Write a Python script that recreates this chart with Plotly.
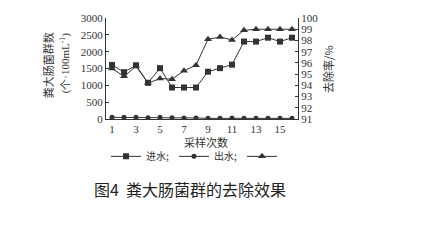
import plotly.graph_objects as go

samples = list(range(1, 17))
inflow = [1605, 1390, 1595, 1075, 1510, 935, 935, 935, 1405, 1510, 1615, 2300, 2300, 2415, 2300, 2415]
outflow = [50, 50, 50, 40, 50, 40, 30, 30, 20, 20, 30, 20, 20, 20, 20, 20]
removal = [95.5, 94.8, 95.7, 94.2, 94.6, 94.55, 95.3, 95.8, 98.1, 98.3, 98.05, 98.9, 99.0, 99.0, 99.0, 99.0]
x_tick_labels = ["1", "", "3", "", "5", "", "7", "", "9", "", "11", "", "13", "", "15", ""]
left_ticks = [0, 500, 1000, 1500, 2000, 2500, 3000]
right_ticks = [91, 92, 93, 94, 95, 96, 97, 98, 99, 100]

c = "#333333"
serif = "Liberation Serif"
cjk = "Noto Sans CJK SC"

fig = go.Figure()
fig.add_trace(go.Scatter(x=samples, y=inflow, name="进水;", mode="lines+markers",
                         line=dict(color=c, width=1), marker=dict(symbol="square", size=6, color=c)))
fig.add_trace(go.Scatter(x=samples, y=outflow, name="出水;", mode="lines+markers",
                         line=dict(color=c, width=1), marker=dict(symbol="circle", size=5, color=c)))
fig.add_trace(go.Scatter(x=samples, y=removal, name=" ", mode="lines+markers", yaxis="y2",
                         line=dict(color=c, width=1), marker=dict(symbol="triangle-up", size=7, color=c)))

axis_common = dict(showline=True, linecolor=c, linewidth=1, ticks="inside", ticklen=3,
                   tickcolor=c, showgrid=False, zeroline=False,
                   tickfont=dict(family=serif, size=11, color=c))

fig.update_layout(
    width=438, height=251,
    margin=dict(l=106, r=140, t=12, b=132),
    paper_bgcolor="white", plot_bgcolor="white",
    showlegend=True,
    legend=dict(orientation="h", x=0.0, xanchor="left", y=-0.37, yanchor="middle",
                font=dict(family=cjk, size=10, color=c), itemwidth=30,
                tracegroupgap=0, bgcolor="rgba(0,0,0,0)"),
    xaxis=dict(range=[0.5, 16.5], tickvals=samples, ticktext=x_tick_labels, **axis_common),
    yaxis=dict(range=[0, 3000], tickvals=left_ticks, **axis_common),
    yaxis2=dict(range=[91, 100], tickvals=right_ticks, overlaying="y", side="right", **axis_common),
    annotations=[
        dict(text="粪大肠菌群数", x=48, y=62, showarrow=False,
             textangle=-90, font=dict(family=cjk, size=11, color=c)),
        dict(text="(个·100mL<sup>-1</sup>)", x=65, y=60, showarrow=False,
             textangle=-90, font=dict(family=serif, size=11, color=c)),
        dict(text="去除率/%", x=328, y=67, showarrow=False,
             textangle=-90, font=dict(family=cjk, size=11, color=c)),
        dict(text="采样次数", x=206, y=143, showarrow=False,
             font=dict(family=cjk, size=11, color=c)),
        dict(text="图4  粪大肠菌群的去除效果", x=190, y=193, showarrow=False,
             font=dict(family=cjk, size=16, color="#222222")),
    ],
)

# convert pixel positions of annotations to paper coords
pl, pr, pt, pb = 106, 438 - 140, 12, 251 - 132
for a in fig.layout.annotations:
    a.xref = "paper"
    a.yref = "paper"
    a.xanchor = "center"
    a.yanchor = "middle"
    px, py = a.x, a.y
    a.x = (px - pl) / (pr - pl)
    a.y = (pb - py) / (pb - pt)

fig.write_html("out.html")
